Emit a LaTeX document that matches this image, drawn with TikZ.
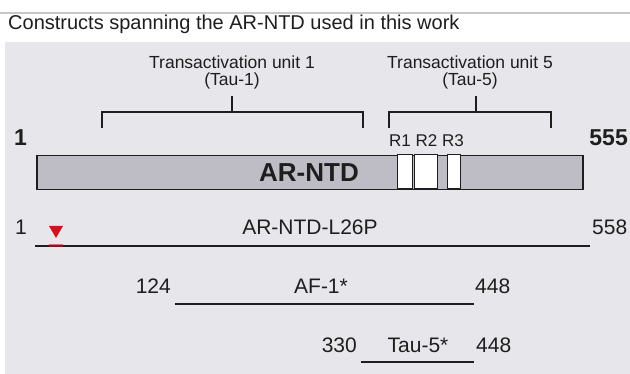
\documentclass[tikz,border=0pt]{standalone}
\usepackage{fontspec}
\setmainfont{Liberation Sans}
\definecolor{panel}{RGB}{230,230,235}
\definecolor{barfill}{RGB}{190,189,198}
\definecolor{ink}{RGB}{30,30,30}
\definecolor{topline}{RGB}{200,200,200}
\definecolor{mutred}{RGB}{205,20,30}
\begin{document}
\begin{tikzpicture}[x=1pt,y=-1pt,
  lbl/.style={inner sep=0pt, anchor=base, text=ink},
  small/.style={font=\fontsize{17.5}{20}\selectfont},
  rowf/.style={font=\fontsize{21}{24}\selectfont},
  bigb/.style={font=\fontsize{23}{26}\selectfont\bfseries},
  brk/.style={draw=ink, line width=1.5pt},
  seg/.style={draw=ink, line width=1.8pt},
  stripe/.style={draw=ink, fill=white, line width=1pt}]
\useasboundingbox (0,0) rectangle (630,374);
\fill[white] (0,0) rectangle (630,374);
\coordinate (tl1) at (0,13); \coordinate (tl2) at (630,13);
\draw[topline, line width=1.5pt] (tl1) -- (tl2);
\node[lbl, anchor=base west, font=\fontsize{20}{24}\selectfont] (title) at (8,30) {Constructs spanning the AR-NTD used in this work};
\fill[panel] (5,42) rectangle (630,374);
% Tau-1
\node[lbl, small] (tu1) at (232,69) {Transactivation unit 1};
\node[lbl, small] (tau1) at (232,86) {(Tau-1)};
\coordinate (b1l) at (102,128); \coordinate (b1r) at (363,128);
\coordinate (b1t) at (232,96); \coordinate (b1m) at (232,112);
\draw[brk] (b1l) -- (102,112) -- (363,112) -- (b1r);
\draw[brk] (b1m) -- (b1t);
% Tau-5
\node[lbl, small] (tu5) at (470,69) {Transactivation unit 5};
\node[lbl, small] (tau5) at (470,86) {(Tau-5)};
\coordinate (b5l) at (389,128); \coordinate (b5r) at (551,128);
\coordinate (b5t) at (476,96); \coordinate (b5m) at (476,112);
\draw[brk] (b5l) -- (389,112) -- (551,112) -- (b5r);
\draw[brk] (b5m) -- (b5t);
% ends
\node[lbl, bigb, anchor=base west] (one) at (14,146) {1};
\node[lbl, bigb, anchor=base east] (fff) at (628,146) {555};
\node[lbl, anchor=base west, font=\fontsize{17}{20}\selectfont] (rr) at (389,147) {R1 R2 R3};
% bar
\node[draw=ink, fill=barfill, line width=1.5pt, minimum width=546pt, minimum height=34pt, inner sep=0pt, anchor=north west] (bar) at (36,155) {};
\draw[stripe] (397,155) rectangle (412,189);
\draw[stripe] (414,155) rectangle (437,189);
\draw[stripe] (447,155) rectangle (460,189);
\node[lbl, font=\fontsize{26}{28}\selectfont\bfseries] (arntd) at (309,182) {AR-NTD};
% row 1
\node[lbl, rowf, anchor=base east] (r1s) at (27,235) {1};
\node[lbl, rowf] (r1n) at (310,235) {AR-NTD-L26P};
\node[lbl, rowf, anchor=base west] (r1e) at (592,235) {558};
\coordinate (r1a) at (35,246); \coordinate (r1b) at (590,246);
\draw[seg] (r1a) -- (r1b);
\coordinate (mut) at (56,246);
\draw[mutred, line width=3pt, opacity=0.55] (49,246) -- (63,246);
\fill[mutred] (49,226) -- (63,226) -- (56,238) -- cycle;
% row 2
\node[lbl, rowf, anchor=base east] (r2s) at (171,294) {124};
\node[lbl, rowf] (r2n) at (321,294) {AF-1*};
\node[lbl, rowf, anchor=base west] (r2e) at (475,294) {448};
\coordinate (r2a) at (175,304); \coordinate (r2b) at (474,304);
\draw[seg] (r2a) -- (r2b);
% row 3
\node[lbl, rowf, anchor=base east] (r3s) at (357,353) {330};
\node[lbl, rowf] (r3n) at (418,353) {Tau-5*};
\node[lbl, rowf, anchor=base west] (r3e) at (476,353) {448};
\coordinate (r3a) at (361,362); \coordinate (r3b) at (474,362);
\draw[seg] (r3a) -- (r3b);
\end{tikzpicture}
\end{document}
